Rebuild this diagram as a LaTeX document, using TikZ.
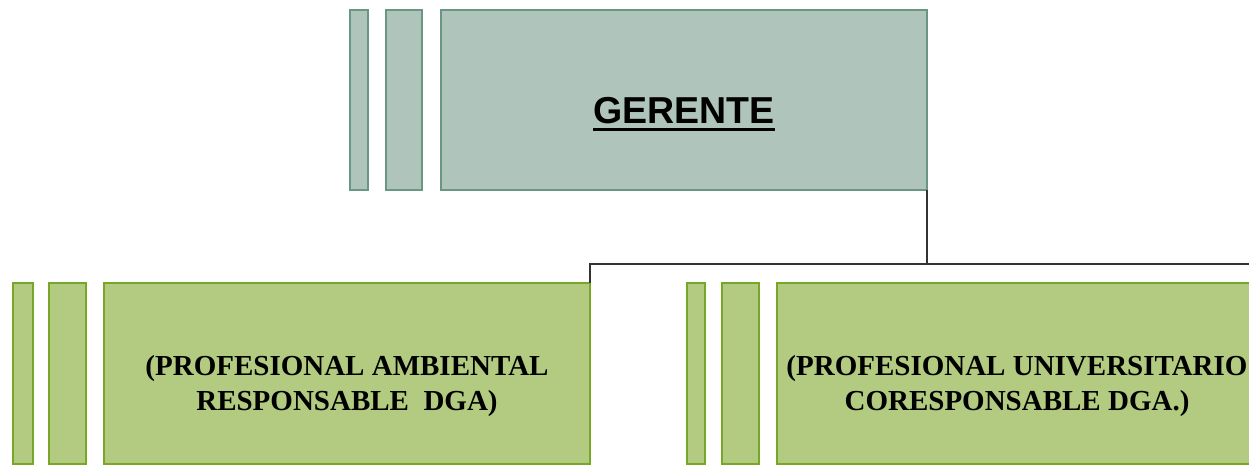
\documentclass[tikz,border=0pt]{standalone}
\usepackage{fontspec}
\setmainfont{Liberation Serif}
\newfontfamily\arialbold{Liberation Sans}
\usetikzlibrary{positioning}

\definecolor{topfill}{HTML}{AFC4BB}
\definecolor{topline}{HTML}{6A9783}
\definecolor{subfill}{HTML}{B2CB80}
\definecolor{subline}{HTML}{78A626}

% thick underline for the head box
\newcommand{\headul}[1]{\setbox0\hbox{#1}\rlap{\rule[-7pt]{\wd0}{3pt}}\box0}

\begin{document}
\begin{tikzpicture}[x=1pt,y=-1pt,
  topbox/.style = {draw=topline,fill=topfill,line width=2.5pt,rectangle,anchor=north west,inner sep=0pt,outer sep=0pt},
  subbox/.style = {draw=subline,fill=subfill,line width=2.5pt,rectangle,anchor=north west,inner sep=0pt,outer sep=0pt},
  subtext/.style = {font=\fontsize{29}{35}\selectfont\bfseries,align=center,text=black},
  link/.style = {draw=black!80,line width=2.5pt}]
\useasboundingbox (0,0) rectangle (1249,466);

% gerente
\node[topbox,minimum width=18pt,minimum height=180pt] (g1) at (350,10) {};
\node[topbox,minimum width=36pt,minimum height=180pt] (g2) at (386,10) {};
\node[topbox,minimum width=486pt,minimum height=180pt,
  label={[yshift=-14pt,font=\fontsize{37.5}{40}\selectfont\bfseries\arialbold]center:\headul{GERENTE}}] (gerente) at (441,10) {};

% profesional ambiental
\node[subbox,minimum width=20pt,minimum height=181pt] (a1) at (13,283) {};
\node[subbox,minimum width=37pt,minimum height=181pt] (a2) at (49,283) {};
\node[subbox,minimum width=486pt,minimum height=181pt,
  label={[yshift=-13pt,subtext]center:(PROFESIONAL AMBIENTAL\\RESPONSABLE~~DGA)}] (amb) at (104,283) {};

% profesional universitario
\node[subbox,minimum width=18pt,minimum height=181pt] (u1) at (687,283) {};
\node[subbox,minimum width=37pt,minimum height=181pt] (u2) at (722,283) {};
\node[subbox,minimum width=480pt,minimum height=181pt,
  label={[yshift=-13pt,subtext]center:(PROFESIONAL UNIVERSITARIO\\CORESPONSABLE DGA.)}] (uni) at (777,283) {};

\coordinate (bus) at (927,264);
\draw[link] (gerente.south east) -- (bus);
\draw[link] (bus) -| (amb.north east);
\draw[link] (bus) -| (uni.north east);
\end{tikzpicture}
\end{document}
